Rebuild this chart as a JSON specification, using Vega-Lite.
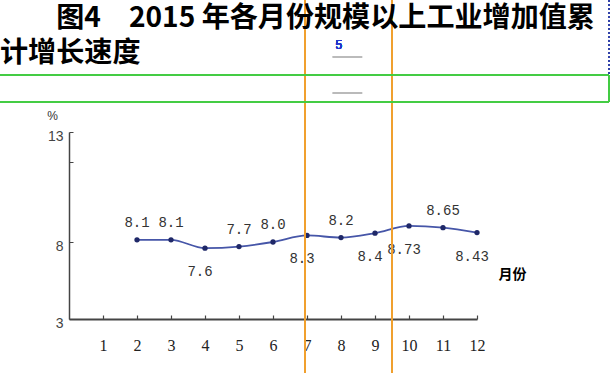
{
  "$schema": "https://vega.github.io/schema/vega-lite/v6.json",
  "width": 408,
  "height": 187,
  "autosize": "none",
  "padding": {"left": 69, "top": 132, "right": 134, "bottom": 54},
  "background": "white",
  "config": {
    "view": {"stroke": null},
    "axisX": {
      "titleX": 443, "titleY": -45,
      "titleAlign": "center", "titleBaseline": "middle",
      "titleFont": "Noto Sans CJK SC", "titleFontSize": 14, "titleFontWeight": "bold", "titleColor": "#000000",
      "grid": false,
      "tickSize": -4, "tickColor": "#444444", "tickWidth": 1.2,
      "domainColor": "#444444", "domainWidth": 2,
      "labelFont": "Liberation Serif", "labelFontSize": 16, "labelColor": "#222222",
      "labelPadding": 22, "labelFlush": false, "labelOverlap": false
    },
    "axisY": {
      "titleAngle": 0, "titleX": -17, "titleY": -17,
      "titleAlign": "center", "titleBaseline": "middle",
      "titleFont": "Liberation Sans", "titleFontSize": 12, "titleFontWeight": "normal", "titleColor": "#333333",
      "grid": false,
      "tickSize": -4, "tickColor": "#444444",
      "domainColor": "#444444", "domainWidth": 1.5,
      "labelFont": "Liberation Sans", "labelFontSize": 14, "labelColor": "#444444",
      "labelPadding": 10, "labelOffset": 4, "labelFlush": false, "labelOverlap": false
    }
  },
  "title": {
    "text": ["\u200b\u3000\u3000图4\u30002015 年各月份规模以上工业增加值累", "计增长速度"],
    "anchor": "start",
    "frame": "group",
    "dx": -69,
    "dy": 69,
    "fontSize": 28.1,
    "fontWeight": "bold",
    "font": "Noto Sans CJK SC",
    "color": "#000000",
    "lineHeight": 35,
    "offset": 0
  },
  "data": {
    "values": [
      {"month": 2, "value": 8.1, "label": "8.1"},
      {"month": 3, "value": 8.1, "label": "8.1"},
      {"month": 4, "value": 7.6, "label": "7.6"},
      {"month": 5, "value": 7.7, "label": "7.7"},
      {"month": 6, "value": 8.0, "label": "8.0"},
      {"month": 7, "value": 8.3, "label": "8.3"},
      {"month": 8, "value": 8.2, "label": "8.2"},
      {"month": 9, "value": 8.4, "label": "8.4"},
      {"month": 10, "value": 8.73, "label": "8.73"},
      {"month": 11, "value": 8.65, "label": "8.65"},
      {"month": 12, "value": 8.43, "label": "8.43"}
    ]
  },
  "layer": [
    {
      "mark": {"type": "line", "interpolate": "monotone", "color": "#4656a8", "strokeWidth": 1.8},
      "encoding": {
        "x": {
          "field": "month", "type": "quantitative",
          "scale": {"domain": [0, 12], "nice": false, "zero": false},
          "axis": {"title": "月份", "values": [1, 2, 3, 4, 5, 6, 7, 8, 9, 10, 11, 12], "format": "d"}
        },
        "y": {
          "field": "value", "type": "quantitative",
          "scale": {"domain": [3, 8, 13], "range": [187, 110, 0], "nice": false, "zero": false},
          "axis": {"title": "%", "values": [3, 8, 11.64, 13], "labelExpr": "datum.value == 11.64 ? '' : datum.label"}
        }
      }
    },
    {
      "mark": {"type": "circle", "size": 28, "color": "#1f2868", "opacity": 1},
      "encoding": {
        "x": {"field": "month", "type": "quantitative", "axis": {"title": "月份", "values": [1, 2, 3, 4, 5, 6, 7, 8, 9, 10, 11, 12], "format": "d"}},
        "y": {"field": "value", "type": "quantitative", "axis": {"title": "%", "values": [3, 8, 11.64, 13], "labelExpr": "datum.value == 11.64 ? '' : datum.label"}}
      }
    },
    {
      "transform": [{"filter": {"field": "month", "oneOf": [2, 3, 5, 6, 8, 11]}}],
      "mark": {"type": "text", "dy": -17, "font": "Liberation Mono", "fontSize": 14, "color": "#333333", "baseline": "middle"},
      "encoding": {
        "x": {"field": "month", "type": "quantitative", "axis": {"title": "月份", "values": [1, 2, 3, 4, 5, 6, 7, 8, 9, 10, 11, 12], "format": "d"}},
        "y": {"field": "value", "type": "quantitative", "axis": {"title": "%", "values": [3, 8, 11.64, 13], "labelExpr": "datum.value == 11.64 ? '' : datum.label"}},
        "text": {"field": "label"}
      }
    },
    {
      "transform": [{"filter": {"field": "month", "oneOf": [4, 7, 9, 10, 12]}}],
      "mark": {"type": "text", "dy": 24, "dx": -5, "font": "Liberation Mono", "fontSize": 14, "color": "#333333", "baseline": "middle"},
      "encoding": {
        "x": {"field": "month", "type": "quantitative", "axis": {"title": "月份", "values": [1, 2, 3, 4, 5, 6, 7, 8, 9, 10, 11, 12], "format": "d"}},
        "y": {"field": "value", "type": "quantitative", "axis": {"title": "%", "values": [3, 8, 11.64, 13], "labelExpr": "datum.value == 11.64 ? '' : datum.label"}},
        "text": {"field": "label"}
      }
    },
    {
      "mark": {"type": "rule", "color": "#f0a030", "strokeWidth": 1.2},
      "encoding": {
        "x": {"datum": 6.94, "type": "quantitative", "axis": {"title": "月份", "values": [1, 2, 3, 4, 5, 6, 7, 8, 9, 10, 11, 12], "format": "d"}},
        "y": {"datum": 19, "type": "quantitative", "axis": {"title": "%", "values": [3, 8, 11.64, 13], "labelExpr": "datum.value == 11.64 ? '' : datum.label"}},
        "y2": {"datum": -0.5}
      }
    },
    {
      "mark": {"type": "rule", "color": "#f0a030", "strokeWidth": 1.2},
      "encoding": {
        "x": {"datum": 9.5, "type": "quantitative", "axis": {"title": "月份", "values": [1, 2, 3, 4, 5, 6, 7, 8, 9, 10, 11, 12], "format": "d"}},
        "y": {"datum": 19, "type": "quantitative", "axis": {"title": "%", "values": [3, 8, 11.64, 13], "labelExpr": "datum.value == 11.64 ? '' : datum.label"}},
        "y2": {"datum": -0.5}
      }
    },
    {
      "mark": {"type": "rule", "color": "#44cc44", "strokeWidth": 1.2},
      "encoding": {
        "x": {"datum": -2.03, "type": "quantitative", "axis": {"title": "月份", "values": [1, 2, 3, 4, 5, 6, 7, 8, 9, 10, 11, 12], "format": "d"}},
        "x2": {"datum": 15.88},
        "y": {"datum": 15.59, "type": "quantitative", "axis": {"title": "%", "values": [3, 8, 11.64, 13], "labelExpr": "datum.value == 11.64 ? '' : datum.label"}}
      }
    },
    {
      "mark": {"type": "rule", "color": "#44cc44", "strokeWidth": 1.2},
      "encoding": {
        "x": {"datum": -2.03, "type": "quantitative", "axis": {"title": "月份", "values": [1, 2, 3, 4, 5, 6, 7, 8, 9, 10, 11, 12], "format": "d"}},
        "x2": {"datum": 15.88},
        "y": {"datum": 14.36, "type": "quantitative", "axis": {"title": "%", "values": [3, 8, 11.64, 13], "labelExpr": "datum.value == 11.64 ? '' : datum.label"}}
      }
    },
    {
      "mark": {"type": "rule", "color": "#44cc44", "strokeWidth": 1.2},
      "encoding": {
        "x": {"datum": 15.88, "type": "quantitative", "axis": {"title": "月份", "values": [1, 2, 3, 4, 5, 6, 7, 8, 9, 10, 11, 12], "format": "d"}},
        "y": {"datum": 15.59, "type": "quantitative", "axis": {"title": "%", "values": [3, 8, 11.64, 13], "labelExpr": "datum.value == 11.64 ? '' : datum.label"}},
        "y2": {"datum": 14.36}
      }
    },
    {
      "mark": {"type": "rule", "color": "#3344aa", "strokeWidth": 1, "strokeDash": [2, 2]},
      "encoding": {
        "x": {"datum": 15.88, "type": "quantitative", "axis": {"title": "月份", "values": [1, 2, 3, 4, 5, 6, 7, 8, 9, 10, 11, 12], "format": "d"}},
        "y": {"datum": 19, "type": "quantitative", "axis": {"title": "%", "values": [3, 8, 11.64, 13], "labelExpr": "datum.value == 11.64 ? '' : datum.label"}},
        "y2": {"datum": 15.59}
      }
    },
    {
      "mark": {"type": "rule", "color": "#bbbbbb", "strokeWidth": 1},
      "encoding": {
        "x": {"datum": 7.76, "type": "quantitative", "axis": {"title": "月份", "values": [1, 2, 3, 4, 5, 6, 7, 8, 9, 10, 11, 12], "format": "d"}},
        "x2": {"datum": 8.62},
        "y": {"datum": 16.41, "type": "quantitative", "axis": {"title": "%", "values": [3, 8, 11.64, 13], "labelExpr": "datum.value == 11.64 ? '' : datum.label"}}
      }
    },
    {
      "mark": {"type": "rule", "color": "#bbbbbb", "strokeWidth": 1},
      "encoding": {
        "x": {"datum": 7.76, "type": "quantitative", "axis": {"title": "月份", "values": [1, 2, 3, 4, 5, 6, 7, 8, 9, 10, 11, 12], "format": "d"}},
        "x2": {"datum": 8.62},
        "y": {"datum": 14.77, "type": "quantitative", "axis": {"title": "%", "values": [3, 8, 11.64, 13], "labelExpr": "datum.value == 11.64 ? '' : datum.label"}}
      }
    },
    {
      "mark": {"type": "text", "color": "#2233cc", "font": "Liberation Sans", "fontSize": 12, "baseline": "middle"},
      "encoding": {
        "x": {"datum": 7.94, "type": "quantitative", "axis": {"title": "月份", "values": [1, 2, 3, 4, 5, 6, 7, 8, 9, 10, 11, 12], "format": "d"}},
        "y": {"datum": 16.95, "type": "quantitative", "axis": {"title": "%", "values": [3, 8, 11.64, 13], "labelExpr": "datum.value == 11.64 ? '' : datum.label"}},
        "text": {"value": "5"}
      }
    }
  ]
}
